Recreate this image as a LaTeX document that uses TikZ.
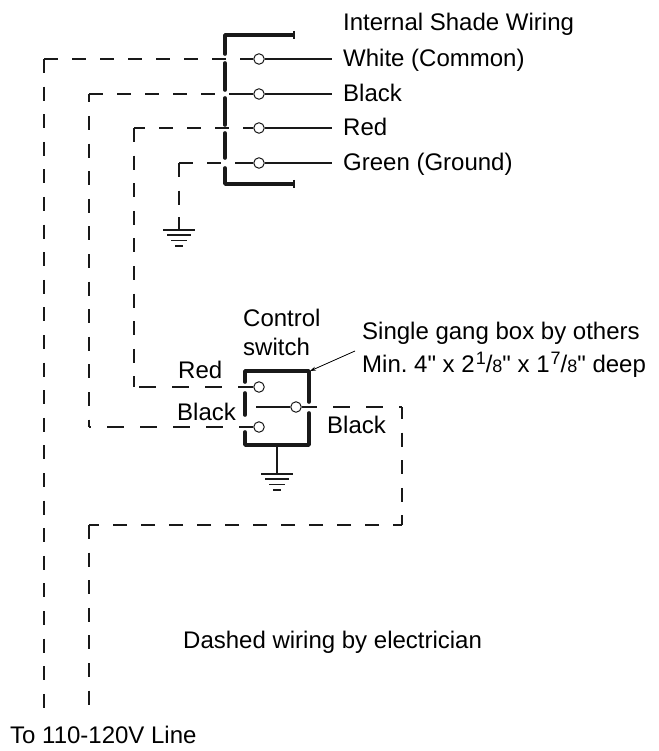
\documentclass[tikz,border=0pt]{standalone}
\usepackage{fontspec}
\setmainfont{Liberation Sans}
\newfontfamily\inchfont{Liberation Sans}
\usetikzlibrary{positioning, arrows.meta}

\tikzset{
    wire/.style={line width=1.5pt, color=black!90},
    dashwire/.style={wire, dash pattern=on 14pt off 14pt},
    dashdown/.style={wire, dash pattern=on 14pt off 13.6pt},
    dashshort/.style={wire, dash pattern=on 16.5pt off 16.5pt},
    boxline/.style={line width=3.6pt, color=black!90, line cap=round, line join=round},
    term/.style={circle, draw=black!90, fill=white, line width=1pt, minimum size=10.5pt, inner sep=0pt},
    lbl/.style={anchor=base west, inner sep=0pt, font=\fontsize{24}{28}\selectfont}
}
\newcommand{\gndmark}[1]{
    \draw[wire, shift={(#1)}] (-16,0) -- (16,0) (-12,5) -- (12,5) (-8,10.5) -- (8,10.5) (-4,16) -- (4,16);
}
\newcommand{\inchfrac}[2]{\kern1pt\raisebox{8pt}{\fontsize{18}{18}\selectfont #1}/{\fontsize{18}{18}\selectfont #2}}

\begin{document}
\begin{tikzpicture}[x=1pt, y=-1pt]
    \useasboundingbox (0,0) rectangle (658,751);

    % shade wiring
    \draw[boxline] (293,35) -- (225,35) -- (225,54);
    \draw[boxline] (225,63) -- (225,90);
    \draw[boxline] (225,98) -- (225,125);
    \draw[boxline] (225,133) -- (225,158);
    \draw[boxline] (225,168) -- (225,184) -- (293,184);
    \draw[wire] (294,31) -- (294,39);
    \draw[wire] (294,180) -- (294,188);

    \node[term] (white) at (259,59) {};
    \node[term] (black) at (259,94) {};
    \node[term] (red) at (259,128) {};
    \node[term] (green) at (259,163) {};
    \coordinate (white end) at (332,59);
    \coordinate (black end) at (332,94);
    \coordinate (red end) at (332,128);
    \coordinate (green end) at (332,163);
    \draw[wire] (white) -- (white end);
    \draw[wire] (black) -- (black end);
    \draw[wire] (red) -- (red end);
    \draw[wire] (green) -- (green end);

    \node[lbl] (shade label) at (343,31) {Internal Shade Wiring};
    \node[lbl] (white label) at (343,67) {White (Common)};
    \node[lbl] (black label) at (343,102) {Black};
    \node[lbl] (red label) at (343,136) {Red};
    \node[lbl] (green label) at (343,171) {Green (Ground)};

    % dashed runs to the shade
    \coordinate (white corner) at (44,59);
    \coordinate (white line) at (44,708);
    \coordinate (black corner) at (89,94);
    \coordinate (black bend) at (89,427);
    \coordinate (red corner) at (134,128);
    \coordinate (red bend) at (134,387);
    \coordinate (green corner) at (179,163);
    \coordinate (green drop) at (179,217);
    \draw[dashwire] (white corner) -- (white);
    \draw[dashdown] (white corner) -- (white line);
    \draw[dashwire] (black corner) -- (215,94);
    \draw[wire] (229,94) -- (black);
    \draw[dashdown, dash phase=5.6] (black corner) -- (black bend);
    \draw[dashwire, dash phase=3] (red corner) -- (red);
    \draw[dashdown] (red corner) -- (red bend);
    \draw[dashwire] (green corner) -- (222,163);
    \draw[wire] (235,163) -- (green);
    \draw[dashdown] (green corner) -- (green drop);
    \draw[wire] (179,217) -- (179,230);
    \gndmark{179,230}

    % control switch
    \draw[boxline] (245,382) -- (245,371) -- (309,371) -- (309,402);
    \draw[boxline] (245,393) -- (245,415);
    \draw[boxline] (245,432) -- (245,445) -- (309,445) -- (309,413);
    \node[term] (sw red) at (259,387) {};
    \node[term] (sw black) at (259,427) {};
    \node[term] (sw out) at (296,407) {};
    \coordinate (sw arm) at (256,407);
    \coordinate (sw gnd) at (277,474);
    \draw[wire] (sw arm) -- (sw out);
    \draw[wire] (sw out) -- (317,407);
    \draw[wire] (277,445) -- (sw gnd);
    \gndmark{277,474}

    \draw[dashshort, dash phase=28] (red bend) -- (sw red);
    \draw[dashshort, dash phase=15] (black bend) -- (sw black);

    % feed from the line
    \coordinate (out corner) at (402,407);
    \coordinate (low corner) at (402,525);
    \coordinate (feed corner) at (89,525);
    \coordinate (black line) at (89,708);
    \draw[dashshort, dash phase=17] (317,407) -- (out corner);
    \draw[dashdown, dash phase=2] (out corner) -- (low corner);
    \draw[dashwire, dash phase=5] (low corner) -- (feed corner);
    \draw[dashdown] (feed corner) -- (black line);

    \node[lbl] (control label) at (243,326) {Control};
    \node[lbl] (switch label) at (243,355) {switch};
    \node[lbl] (red sw label) at (178,378) {Red};
    \node[lbl] (black sw label) at (177,420) {Black};
    \node[lbl] (black out label) at (327,433) {Black};
    \node[lbl] (box label) at (362,339) {Single gang box by others};
    \node[lbl] (size label) at (362,372) {\inchfont\frenchspacing Min. 4" x 2\inchfrac{1}{8}" x 1\inchfrac{7}{8}" deep};
    \coordinate (box corner) at (310,371);
    \coordinate (box leader) at (355,351);
    \draw[-{Stealth[length=6pt, width=4pt]}, line width=0.8pt] (box leader) -- (box corner);

    \node[lbl] (dashed label) at (183,648) {Dashed wiring by electrician};
    \node[lbl] (line label) at (10,743) {To 110-120V Line};
\end{tikzpicture}
\end{document}
